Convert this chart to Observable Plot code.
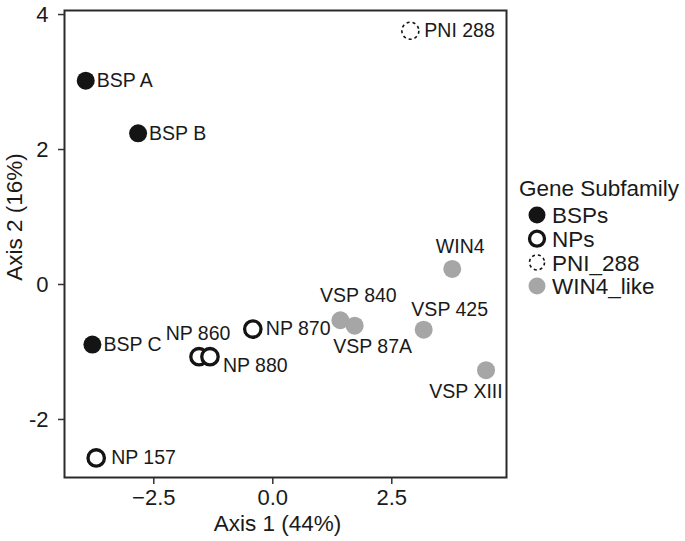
<!DOCTYPE html>
<html>
<head>
<meta charset="utf-8">
<script src="https://cdn.jsdelivr.net/npm/d3@7"></script>
<script src="https://cdn.jsdelivr.net/npm/@observablehq/plot@0.6"></script>
<style>
  body { margin: 0; background: #fff; }
  #wrap { position: relative; width: 685px; height: 541px; font-family: "Liberation Sans", Arial, sans-serif; }
  #legend { position: absolute; left: 0; top: 0; }
</style>
</head>
<body>
<div id="wrap"></div>
<script>
// ---- data ----
const names     = ["BSP A", "BSP B", "BSP C", "NP 157", "NP 860", "NP 880", "NP 870", "VSP 840", "VSP 87A", "VSP 425", "VSP XIII", "WIN4", "PNI 288"];
const axis1     = [-3.93, -2.83, -3.79, -3.71, -1.55, -1.32, -0.42, 1.42, 1.72, 3.17, 4.48, 3.77, 2.89];
const axis2     = [3.02, 2.24, -0.89, -2.57, -1.07, -1.07, -0.66, -0.53, -0.61, -0.67, -1.27, 0.23, 3.76];
const subfamily = ["BSPs", "BSPs", "BSPs", "NPs", "NPs", "NPs", "NPs", "WIN4_like", "WIN4_like", "WIN4_like", "WIN4_like", "WIN4_like", "PNI_288"];
const groups    = ["BSPs", "NPs", "PNI_288", "WIN4_like"];
const xTicks    = [-2.5, 0, 2.5];
const yTicks    = [-2, 0, 2, 4];
const xTitle    = "Axis 1 (44%)";
const yTitle    = "Axis 2 (16%)";
const legendTitle = "Gene Subfamily";

const rows = names.map((n, i) => ({name: n, x: axis1[i], y: axis2[i], g: subfamily[i]}));

// ---- styles ----
const BLACK = "#141414", GRAY = "#a6a6a6";
const groupStyle = {
  BSPs:      {fill: BLACK, stroke: "none", r: 9, strokeWidth: 0},
  NPs:       {fill: "white", stroke: BLACK, r: 8.2, strokeWidth: 3.3},
  PNI_288:   {fill: "white", stroke: BLACK, r: 8.5, strokeWidth: 1.6, strokeDasharray: "3,3"},
  WIN4_like: {fill: GRAY, stroke: "none", r: 9, strokeWidth: 0}
};
// label placement (style, not data)
const labelPlacement = {
  "BSP A":   {dx: 11, dy: 0, textAnchor: "start"},
  "BSP B":   {dx: 11, dy: 0, textAnchor: "start"},
  "BSP C":   {dx: 11, dy: 0, textAnchor: "start"},
  "NP 157":  {dx: 15, dy: 0, textAnchor: "start"},
  "NP 870":  {dx: 13, dy: 0, textAnchor: "start"},
  "PNI 288": {dx: 14, dy: 0, textAnchor: "start"},
  "NP 860":  {dx: -1, dy: -23, textAnchor: "middle"},
  "NP 880":  {dx: 13, dy: 9, textAnchor: "start"},
  "VSP 840": {dx: 18, dy: -25, textAnchor: "middle"},
  "VSP 87A": {dx: 18, dy: 21, textAnchor: "middle"},
  "VSP 425": {dx: 26, dy: -20, textAnchor: "middle"},
  "VSP XIII":{dx: -20, dy: 22, textAnchor: "middle"},
  "WIN4":    {dx: 8, dy: -22, textAnchor: "middle"}
};

const dotMarks = groups.map(g => Plot.dot(rows.filter(d => d.g === g), {
  x: "x", y: "y", ...groupStyle[g]
}));
const labelMarks = rows.map(d => Plot.text([d], {
  x: "x", y: "y", text: "name", fontSize: 19.5, fill: "#1a1a1a", lineAnchor: "middle",
  ...labelPlacement[d.name]
}));

const chart = Plot.plot({
  width: 685,
  height: 541,
  marginLeft: 64,
  marginRight: 179,
  marginTop: 10,
  marginBottom: 64,
  style: {fontFamily: "'Liberation Sans', Arial, sans-serif", background: "white", color: "#1a1a1a"},
  x: {domain: [-4.376, 4.91]},
  y: {domain: [-2.86, 4.06]},
  marks: [
    Plot.axisX({ticks: xTicks, tickFormat: d3.format(".1f"), tickSize: 7, tickPadding: 5, fontSize: 22, label: null, stroke: "#333", strokeWidth: 1.5}),
    Plot.axisY({ticks: yTicks, tickFormat: d => d < 0 ? "-" + Math.abs(d) : String(d), tickSize: 6, tickPadding: 10, fontSize: 22, label: null, stroke: "#333", strokeWidth: 1.5}),
    Plot.text([xTitle], {frameAnchor: "bottom", text: d => d, dx: -8, dy: 46, fontSize: 22.5, lineAnchor: "middle", fill: "#1a1a1a"}),
    ...dotMarks,
    ...labelMarks,
    Plot.frame({stroke: "#2a2a2a", strokeWidth: 2})
  ]
});

const wrap = document.getElementById("wrap");
wrap.appendChild(chart);

// ---- overlay: y-axis title and legend ----
const leg = d3.select(wrap).append("svg").attr("id", "legend")
  .attr("width", 685).attr("height", 541)
  .style("pointer-events", "none")
  .style("font-family", "'Liberation Sans', Arial, sans-serif");

leg.append("text")
  .attr("transform", "translate(14,217) rotate(-90)")
  .attr("text-anchor", "middle").attr("dy", "0.36em")
  .attr("font-size", 22.5).attr("fill", "#1a1a1a").text(yTitle);

leg.append("text").attr("x", 519).attr("y", 196).attr("font-size", 22.5).attr("fill", "#1a1a1a").text(legendTitle);
groups.forEach((g, i) => {
  const cy = 215 + i * 23.7;
  const s = groupStyle[g];
  const c = leg.append("circle").attr("cx", 537).attr("cy", cy).attr("r", s.r === 9 ? 8.5 : 7.5)
    .attr("fill", s.fill).attr("stroke", s.stroke).attr("stroke-width", s.strokeWidth);
  if (s.strokeDasharray) c.attr("stroke-dasharray", s.strokeDasharray);
  leg.append("text").attr("x", 552).attr("y", cy).attr("dy", "0.36em").attr("font-size", 22.5).attr("fill", "#1a1a1a").text(g);
});
</script>
</body>
</html>
